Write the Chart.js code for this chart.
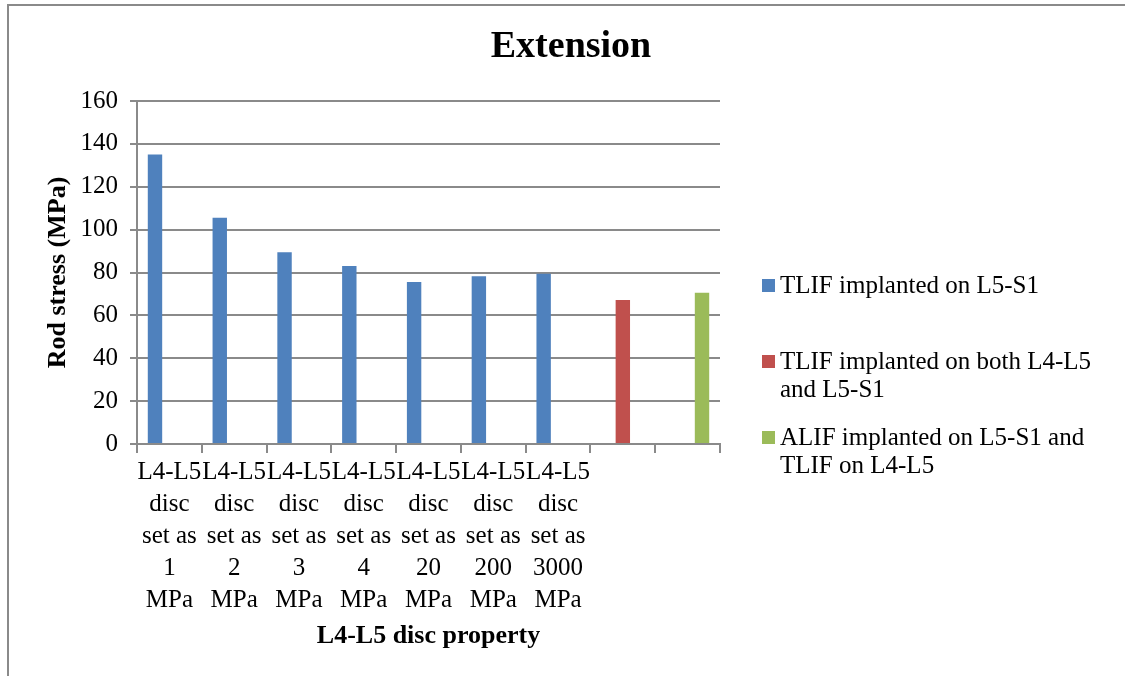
<!DOCTYPE html>
<html>
<head>
<meta charset="utf-8">
<script src="https://cdn.jsdelivr.net/npm/chart.js@4.4.1/dist/chart.umd.min.js"></script>
<style>
  body { margin: 0; background: #fff; }
  #wrap { position: relative; width: 1125px; height: 676px; overflow: hidden; }
  #frame { position: absolute; left: 7px; top: 4px; width: 1200px; height: 800px;
           border-left: 2px solid #8a8a8a; border-top: 2px solid #8a8a8a; }
  canvas { position: absolute; left: 0; top: 0; }
</style>
</head>
<body>
<div id="wrap">
  <div id="frame"></div>
  <canvas id="chart" width="1125" height="676"></canvas>
</div>
<script>
// categories along the x axis (last two have no label)
const categories = [
  ['L4-L5', 'disc', 'set as', '1', 'MPa'],
  ['L4-L5', 'disc', 'set as', '2', 'MPa'],
  ['L4-L5', 'disc', 'set as', '3', 'MPa'],
  ['L4-L5', 'disc', 'set as', '4', 'MPa'],
  ['L4-L5', 'disc', 'set as', '20', 'MPa'],
  ['L4-L5', 'disc', 'set as', '200', 'MPa'],
  ['L4-L5', 'disc', 'set as', '3000', 'MPa'],
  '',
  ''
]

const tlifL5S1 = [135, 105.5, 89.5, 83, 75.6, 78.2, 79.4, null, null]
const tlifBoth = [null, null, null, null, null, null, null, 67.2, null]
const alifTlif = [null, null, null, null, null, null, null, null, 70.5]

const seriesNames = [
  ['TLIF implanted on L5-S1'],
  ['TLIF implanted on both L4-L5', 'and L5-S1'],
  ['ALIF implanted on L5-S1 and', 'TLIF on L4-L5']
]
const colors = ['#4f81bd', '#c0504d', '#9bbb59']

const FONT = "'Liberation Serif', 'Times New Roman', serif"

// title and legend drawn by hand: title centred on the whole canvas, legend names wrap
const decorations = {
  id: 'decorations',
  afterDraw(chart) {
    const ctx = chart.ctx
    ctx.save()
    ctx.fillStyle = '#000'
    ctx.textAlign = 'center'
    ctx.textBaseline = 'middle'
    ctx.font = 'bold 38px ' + FONT
    ctx.fillText('Extension', 571, 47)

    const tops = [286, 362, 438]
    ctx.textAlign = 'left'
    ctx.font = '25px ' + FONT
    chart.data.datasets.forEach((ds, i) => {
      ctx.fillStyle = ds.backgroundColor
      ctx.fillRect(762, tops[i] - 7, 13, 13)
      ctx.fillStyle = '#000'
      seriesNames[i].forEach((line, j) => {
        ctx.fillText(line, 780, tops[i] + j * 28)
      })
    })
    ctx.restore()
  }
}

new Chart(document.getElementById('chart'), {
  type: 'bar',
  data: {
    labels: categories,
    datasets: [
      { label: seriesNames[0].join(' '), data: tlifL5S1, backgroundColor: colors[0] },
      { label: seriesNames[1].join(' '), data: tlifBoth, backgroundColor: colors[1] },
      { label: seriesNames[2].join(' '), data: alifTlif, backgroundColor: colors[2] }
    ]
  },
  options: {
    responsive: false,
    animation: false,
    categoryPercentage: 0.667,
    barPercentage: 1.0,
    layout: { padding: { left: 43, right: 405, top: 101, bottom: 24 } },
    plugins: {
      legend: { display: false },
      tooltip: { enabled: false },
      title: { display: false }
    },
    scales: {
      x: {
        grid: { display: true, offset: true, drawOnChartArea: false, drawTicks: true, tickLength: 9, color: '#8a8a8a', lineWidth: 2 },
        border: { color: '#8a8a8a', width: 2 },
        ticks: {
          color: '#000', autoSkip: false, maxRotation: 0, minRotation: 0, padding: 3,
          font: { family: FONT, size: 25, lineHeight: 1.28 }
        },
        title: {
          display: true, text: 'L4-L5 disc property', color: '#000',
          font: { family: FONT, size: 26, weight: 'bold' }, padding: { top: 5, bottom: 0 }
        },
        afterFit: s => { s.height = 676 - 24 - 444 }
      },
      y: {
        min: 0, max: 160,
        grid: { color: '#8a8a8a', lineWidth: 2, tickLength: 7 },
        border: { color: '#8a8a8a', width: 2 },
        ticks: { stepSize: 20, color: '#000', padding: 12, font: { family: FONT, size: 25 } },
        title: {
          display: true, text: 'Rod stress (MPa)', color: '#000',
          font: { family: FONT, size: 26, weight: 'bold' }, padding: 0
        },
        afterFit: s => { s.width = 137 - 43 }
      }
    }
  },
  plugins: [decorations]
})
</script>
</body>
</html>
